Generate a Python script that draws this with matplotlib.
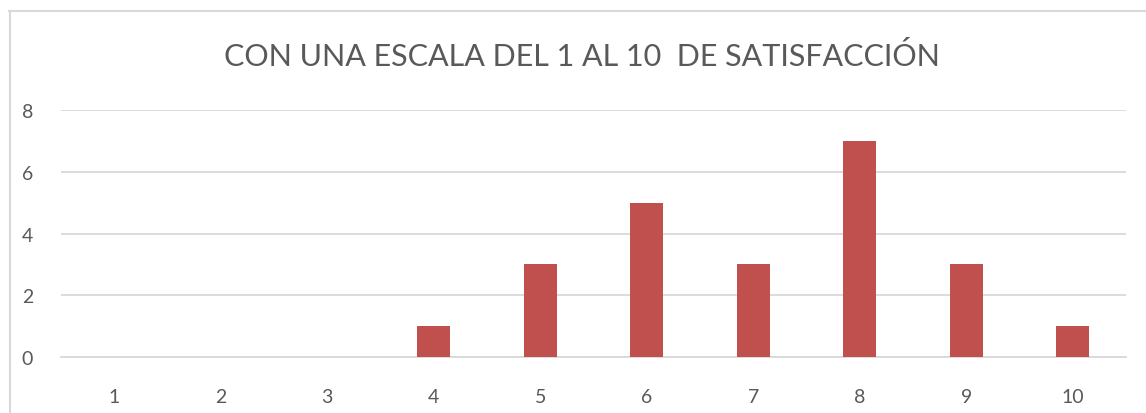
import matplotlib.pyplot as plt
from matplotlib.lines import Line2D

categories = ['1', '2', '3', '4', '5', '6', '7', '8', '9', '10']
counts = [0, 0, 0, 1, 3, 5, 3, 7, 3, 1]
y_ticks = [0, 2, 4, 6, 8]
title = 'CON UNA ESCALA DEL 1 AL 10  DE SATISFACCIÓN'

plt.rcParams['font.family'] = ['Lato', 'DejaVu Sans']
text_color = '#595959'

fig = plt.figure(figsize=(11.46, 4.14), dpi=100)
ax = fig.add_axes([61 / 1146, 56 / 414, 1065 / 1146, 247 / 414])

x = list(range(1, len(categories) + 1))
ax.bar(x, counts, width=0.31, color='#C0504D', zorder=3)

ax.set_xlim(0.5, 10.5)
ax.set_ylim(0, 8)
ax.set_xticks(x)
ax.set_xticklabels(categories)
ax.set_yticks(y_ticks)
ax.yaxis.grid(True, color='#D9D9D9', linewidth=1.3, zorder=0)
for s in ['top', 'right', 'left']:
    ax.spines[s].set_visible(False)
ax.spines['bottom'].set_color('#D9D9D9')
ax.spines['bottom'].set_linewidth(1.3)
ax.tick_params(axis='both', length=0, labelsize=14, colors=text_color)
ax.tick_params(axis='y', pad=20)
ax.tick_params(axis='x', pad=22)

fig.text(582 / 1146, 1 - 57 / 414, title, ha='center', va='center',
         fontsize=22, color=text_color)

# chart border (top and left visible)
fig.add_artist(Line2D([9 / 1146, 1], [1 - 11.5 / 414] * 2, color='#D9D9D9', linewidth=1.5))
fig.add_artist(Line2D([9.5 / 1146] * 2, [0, 1 - 11.5 / 414], color='#D9D9D9', linewidth=1.5))

plt.savefig('out.png', dpi=100)
